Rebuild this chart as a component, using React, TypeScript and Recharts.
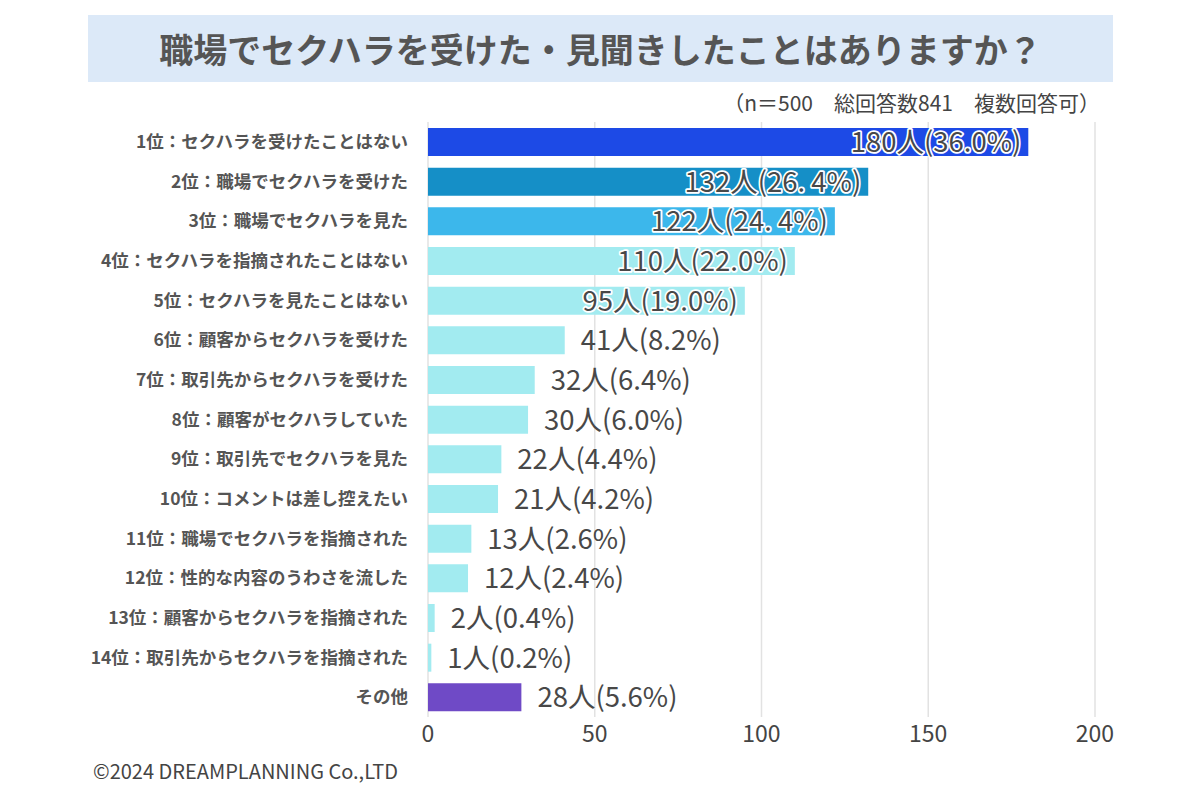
import React from 'react';
import { BarChart, Bar, XAxis, YAxis, CartesianGrid, Cell, LabelList } from 'recharts';

const categories = [
  '1位：セクハラを受けたことはない',
  '2位：職場でセクハラを受けた',
  '3位：職場でセクハラを見た',
  '4位：セクハラを指摘されたことはない',
  '5位：セクハラを見たことはない',
  '6位：顧客からセクハラを受けた',
  '7位：取引先からセクハラを受けた',
  '8位：顧客がセクハラしていた',
  '9位：取引先でセクハラを見た',
  '10位：コメントは差し控えたい',
  '11位：職場でセクハラを指摘された',
  '12位：性的な内容のうわさを流した',
  '13位：顧客からセクハラを指摘された',
  '14位：取引先からセクハラを指摘された',
  'その他',
];
const counts = [180, 132, 122, 110, 95, 41, 32, 30, 22, 21, 13, 12, 2, 1, 28];
const percents = ['36.0%', '26. 4%', '24. 4%', '22.0%', '19.0%', '8.2%', '6.4%', '6.0%', '4.4%', '4.2%', '2.6%', '2.4%', '0.4%', '0.2%', '5.6%'];
const barColors = [
  '#1d4ae6', '#158fc7', '#3cb7eb',
  '#a2ebf0', '#a2ebf0', '#a2ebf0', '#a2ebf0', '#a2ebf0', '#a2ebf0',
  '#a2ebf0', '#a2ebf0', '#a2ebf0', '#a2ebf0', '#a2ebf0',
  '#6f4ac6',
];
const xTicks = [0, 50, 100, 150, 200];

const FONT = '"Noto Sans CJK JP", "Noto Sans", sans-serif';

const data = categories.map((name, i) => ({
  name,
  value: counts[i],
  label: `${counts[i]}人(${percents[i]})`,
}));

// labels of the top 5 bars sit inside the bar end, the rest just after it
const ValueLabel = (props: any) => {
  const { x, y, width, height, index, value } = props;
  const inside = index < 5;
  const tx = inside ? x + width - 7 : x + width + 16;
  return (
    <text
      x={tx}
      y={y + height / 2}
      dy="0.36em"
      textAnchor={inside ? 'end' : 'start'}
      fontFamily={FONT}
      fontSize={27.5}
      fill="#484848"
      stroke={inside ? '#ffffff' : 'none'}
      strokeWidth={inside ? 3.5 : 0}
      strokeLinejoin="round"
      style={{ paintOrder: 'stroke' }}
    >
      {data[index] ? data[index].label : value}
    </text>
  );
};

export default function App() {
  return (
    <div style={{ position: 'absolute', left: 0, top: 0, width: 1200, height: 800, background: '#ffffff', fontFamily: FONT }}>
      <div style={{
        position: 'absolute', left: 88, top: 15, width: 1025, height: 67,
        background: '#dce9f8', display: 'flex', alignItems: 'center', justifyContent: 'center',
        fontSize: 34, fontWeight: 700, color: '#555555',
      }}>
        職場でセクハラを受けた・見聞きしたことはありますか？
      </div>
      <div style={{ position: 'absolute', right: 100, top: 87, fontSize: 21, color: '#444' }}>
        （n＝500　総回答数841　複数回答可）
      </div>
      <BarChart
        width={1200}
        height={800}
        data={data}
        layout="vertical"
        margin={{ top: 122, right: 105, bottom: 53, left: 98 }}
        barSize={28}
      >
        <CartesianGrid horizontal={false} vertical stroke="#e2e2e2" strokeWidth={1.5} />
        <XAxis
          type="number"
          domain={[0, 200]}
          ticks={xTicks}
          axisLine={false}
          tickLine={false}
          tickMargin={3}
          tick={{ fontSize: 23, fill: '#444', fontFamily: FONT }}
        />
        <YAxis
          type="category"
          dataKey="name"
          width={330}
          axisLine={false}
          tickLine={false}
          tickMargin={14}
          interval={0}
          tick={{ fontSize: 17.5, fontWeight: 700, fill: '#555', fontFamily: FONT }}
        />
        <Bar dataKey="value" isAnimationActive={false}>
          {data.map((d, i) => (
            <Cell key={d.name} fill={barColors[i]} />
          ))}
          <LabelList dataKey="value" content={<ValueLabel />} />
        </Bar>
      </BarChart>
      <div style={{ position: 'absolute', left: 93, top: 756, fontSize: 20, color: '#444' }}>
        ©2024 DREAMPLANNING Co.,LTD
      </div>
    </div>
  );
}
